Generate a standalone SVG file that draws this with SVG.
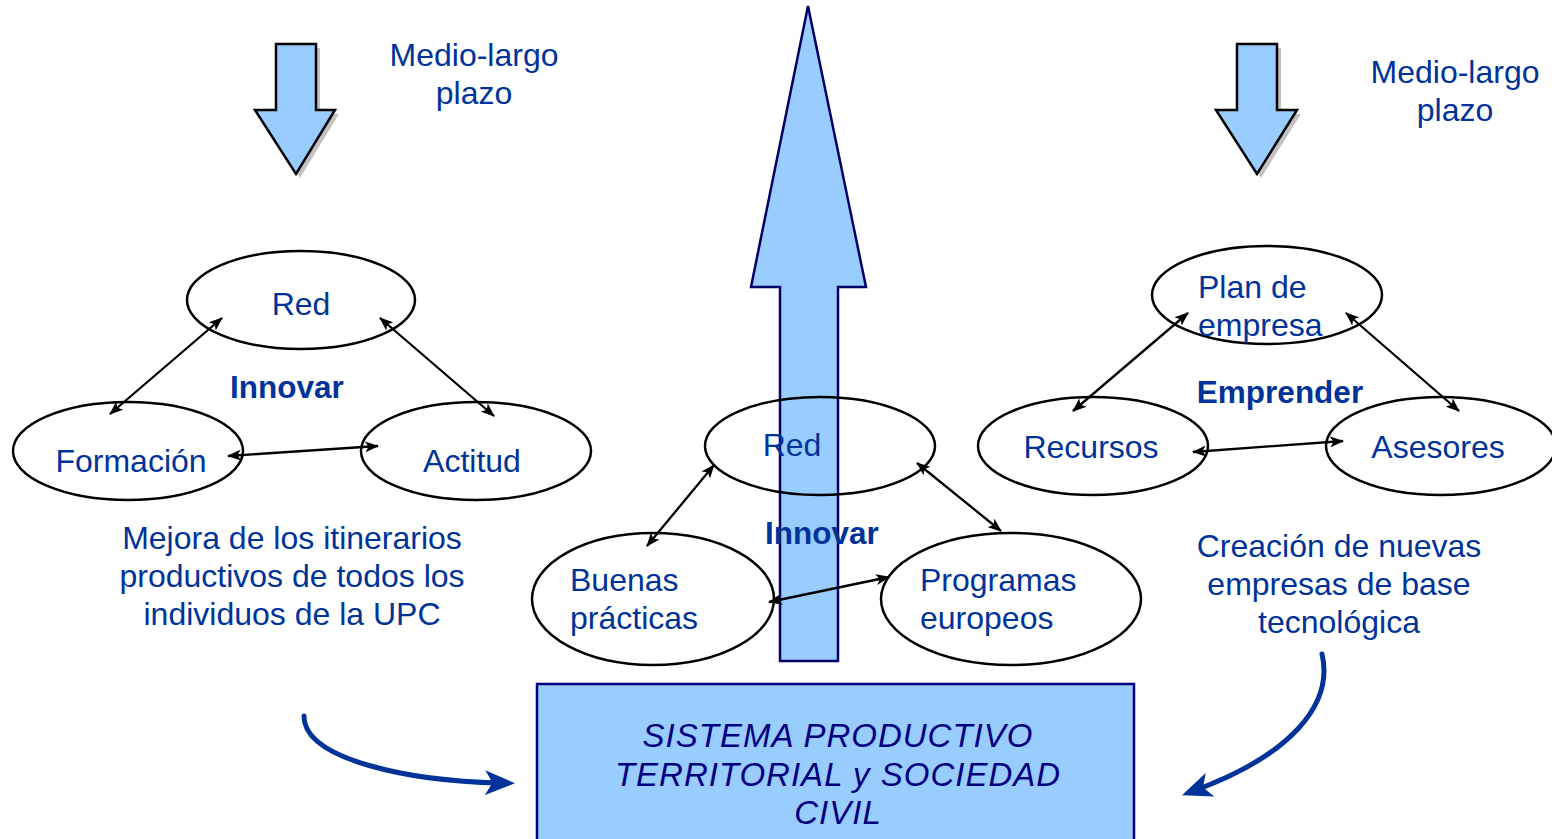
<svg xmlns="http://www.w3.org/2000/svg" width="1552" height="839" viewBox="0 0 1552 839">
<style>
.t{font-family:"Liberation Sans",Arial,sans-serif;font-size:32px;fill:#003399}
.b{font-family:"Liberation Sans",Arial,sans-serif;font-size:31.5px;font-weight:bold;fill:#003399}
.bx{font-family:"Liberation Sans",Arial,sans-serif;font-size:33px;font-style:italic;fill:#000080;letter-spacing:1px}
.e{fill:none;stroke:#000;stroke-width:2.5}
.c{fill:none;stroke:#000;stroke-width:2.3;marker-start:url(#ah);marker-end:url(#ah)}
.blk{fill:#99CCFF;stroke:#000;stroke-width:2.5}
.sh{fill:#999;opacity:0.6}
.cv{fill:none;stroke:#003399;stroke-width:5;stroke-linecap:round;marker-end:url(#bh)}
</style>
<defs>
<marker id="ah" viewBox="0 0 14 11" refX="13" refY="5.5" markerWidth="14" markerHeight="11" markerUnits="userSpaceOnUse" orient="auto-start-reverse">
<path d="M0,0 L14,5.5 L0,11 L3.5,5.5 z" fill="#000"/>
</marker>
<marker id="bh" viewBox="0 0 12 10" refX="6" refY="5" markerWidth="6" markerHeight="5" orient="auto">
<path d="M0,0 L12,5 L0,10 L3,5 z" fill="#003399"/>
</marker>
</defs>
<rect width="1552" height="839" fill="#fff"/>

<g id="arrow-left-down">
<polygon class="sh" points="280,48 320,48 320,114 339,114 300,178 259,114 280,114"/>
<polygon class="blk" points="276,44 316,44 316,110 335,110 296,174 255,110 276,110"/>
</g>
<g id="arrow-right-down">
<polygon class="sh" points="1241,48 1281,48 1281,114 1301,114 1261,178 1220,114 1241,114"/>
<polygon class="blk" points="1237,44 1277,44 1277,110 1297,110 1257,174 1216,110 1237,110"/>
</g>

<g id="arrow-center-up">
<polygon points="808,6 866,287 838,287 838,661 780,661 780,287 751,287" fill="#99CCFF" stroke="#000066" stroke-width="2.5" stroke-linejoin="miter"/>
</g>

<g id="label-medio-left">
<text class="t" x="474" y="66" text-anchor="middle">Medio-largo</text>
<text class="t" x="474" y="104" text-anchor="middle">plazo</text>
</g>
<g id="label-medio-right">
<text class="t" x="1455" y="83" text-anchor="middle">Medio-largo</text>
<text class="t" x="1455" y="121" text-anchor="middle">plazo</text>
</g>

<g id="node-red-left">
<ellipse class="e" cx="301" cy="300" rx="114" ry="49"/>
<text class="t" x="301" y="315" text-anchor="middle">Red</text>
</g>
<g id="node-formacion">
<ellipse class="e" cx="128" cy="451" rx="115" ry="49"/>
<text class="t" x="131" y="472" text-anchor="middle">Formación</text>
</g>
<g id="node-actitud">
<ellipse class="e" cx="476" cy="451" rx="115" ry="49"/>
<text class="t" x="472" y="472" text-anchor="middle">Actitud</text>
</g>
<g id="label-innovar-left">
<text class="b" x="287" y="398" text-anchor="middle">Innovar</text>
</g>

<g id="node-red-center">
<ellipse class="e" cx="820" cy="446" rx="115" ry="49"/>
<text class="t" x="792" y="456" text-anchor="middle">Red</text>
</g>
<g id="node-buenas">
<ellipse class="e" cx="653" cy="599" rx="121" ry="66"/>
<text class="t" x="570" y="591">Buenas</text>
<text class="t" x="570" y="629">prácticas</text>
</g>
<g id="node-programas">
<ellipse class="e" cx="1011" cy="599" rx="130" ry="66"/>
<text class="t" x="920" y="591">Programas</text>
<text class="t" x="920" y="629">europeos</text>
</g>
<g id="label-innovar-center">
<text class="b" x="822" y="544" text-anchor="middle">Innovar</text>
</g>

<g id="node-plan">
<ellipse class="e" cx="1267" cy="295" rx="115" ry="49"/>
<text class="t" x="1198" y="298">Plan de</text>
<text class="t" x="1198" y="336">empresa</text>
</g>
<g id="node-recursos">
<ellipse class="e" cx="1093" cy="446" rx="115" ry="49"/>
<text class="t" x="1091" y="458" text-anchor="middle">Recursos</text>
</g>
<g id="node-asesores">
<ellipse class="e" cx="1441" cy="446" rx="115" ry="49"/>
<text class="t" x="1438" y="458" text-anchor="middle">Asesores</text>
</g>
<g id="label-emprender">
<text class="b" x="1280" y="403" text-anchor="middle">Emprender</text>
</g>

<g id="caption-left">
<text class="t" x="292" y="549" text-anchor="middle">Mejora de los itinerarios</text>
<text class="t" x="292" y="587" text-anchor="middle">productivos de todos los</text>
<text class="t" x="292" y="625" text-anchor="middle">individuos de la UPC</text>
</g>
<g id="caption-right">
<text class="t" x="1339" y="557" text-anchor="middle">Creación de nuevas</text>
<text class="t" x="1339" y="595" text-anchor="middle">empresas de base</text>
<text class="t" x="1339" y="633" text-anchor="middle">tecnológica</text>
</g>

<g id="node-sistema">
<rect x="537" y="684" width="597" height="170" fill="#99CCFF" stroke="#000080" stroke-width="2.5"/>
<text class="bx" x="838" y="747" text-anchor="middle">SISTEMA PRODUCTIVO</text>
<text class="bx" x="838" y="786" text-anchor="middle">TERRITORIAL y SOCIEDAD</text>
<text class="bx" x="838" y="824" text-anchor="middle">CIVIL</text>
</g>

<g id="connectors">
<line class="c" x1="222" y1="318" x2="110" y2="414"/>
<line class="c" x1="380" y1="318" x2="494" y2="416"/>
<line class="c" x1="228" y1="456" x2="378" y2="446"/>
<line class="c" x1="714" y1="465" x2="647" y2="546"/>
<line class="c" x1="917" y1="463" x2="1001" y2="531"/>
<line class="c" x1="769" y1="602" x2="889" y2="577"/>
<line class="c" x1="1188" y1="313" x2="1073" y2="411"/>
<line class="c" x1="1346" y1="313" x2="1459" y2="411"/>
<line class="c" x1="1193" y1="452" x2="1343" y2="441"/>
<path class="cv" d="M304,716 C304,760 410,781 500,783"/>
<path class="cv" d="M1322,654 C1334,705 1290,755 1196,790"/>
</g>
</svg>
